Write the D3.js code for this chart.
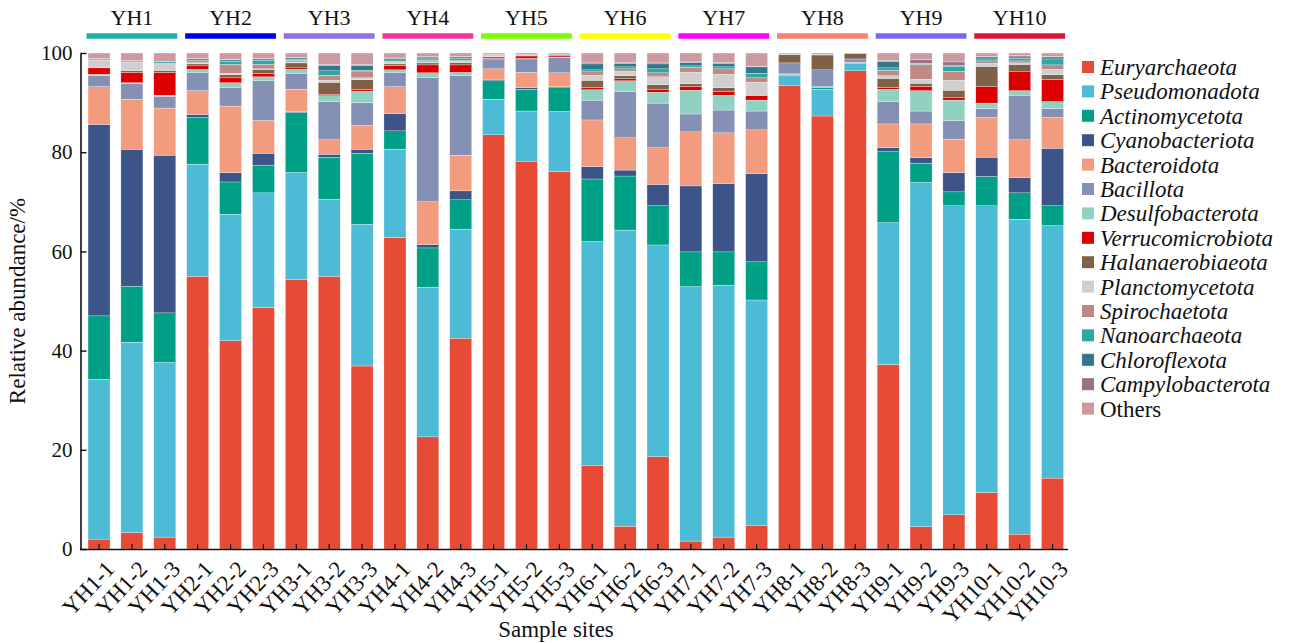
<!DOCTYPE html>
<html>
<head>
<meta charset="utf-8">
<style>
  body { margin: 0; background: #fff; }
  svg text { font-family: "Liberation Serif", "Times New Roman", serif; fill: #111; }
</style>
<script src="https://d3js.org/d3.v7.min.js"></script>
</head>
<body>
<script>
// samples and groups
var samples = ["YH1-1","YH1-2","YH1-3","YH2-1","YH2-2","YH2-3","YH3-1","YH3-2","YH3-3",
               "YH4-1","YH4-2","YH4-3","YH5-1","YH5-2","YH5-3","YH6-1","YH6-2","YH6-3",
               "YH7-1","YH7-2","YH7-3","YH8-1","YH8-2","YH8-3","YH9-1","YH9-2","YH9-3",
               "YH10-1","YH10-2","YH10-3"];
var groups = ["YH1","YH2","YH3","YH4","YH5","YH6","YH7","YH8","YH9","YH10"];
var groupColors = ["#20b2aa","#0000ee","#9370db","#f7339a","#7cfc00","#ffff00","#ff00ff","#fa8072","#7b68ee","#dc143c"];

var phyla = ["Euryarchaeota","Pseudomonadota","Actinomycetota","Cyanobacteriota","Bacteroidota",
             "Bacillota","Desulfobacterota","Verrucomicrobiota","Halanaerobiaeota","Planctomycetota",
             "Spirochaetota","Nanoarchaeota","Chloroflexota","Campylobacterota","Others"];
var colors = ["#e64b35","#4dbbd5","#00a087","#3c5488","#f39b7f","#8491b4","#91d1c2","#dc0000",
              "#7e6148","#cfcfcf","#c08a84","#2ba8a6","#32788a","#9c7085","#cc9aa0"];

// relative abundance (%) per phylum, one value per sample
var euryarchaeota     = [2.0,3.3,2.4,55.0,42.0,48.7,54.4,55.0,36.9,62.8,22.6,42.5,83.5,78.2,76.1,16.9,4.6,18.6,1.6,2.4,4.8,93.4,87.3,96.4,37.2,4.5,6.9,11.4,3.0,14.3];
var pseudomonadota    = [32.2,38.4,35.2,22.6,25.5,23.1,21.5,15.5,28.6,17.8,30.2,22.0,7.2,10.1,12.1,45.1,59.7,42.7,51.3,50.8,45.4,2.1,5.4,1.5,28.6,69.4,62.3,57.8,63.5,50.9];
var actinomycetota    = [12.8,11.3,10.0,9.4,6.5,5.6,12.1,8.5,14.3,3.7,7.9,5.9,3.7,4.4,4.8,12.6,10.9,7.9,7.0,6.7,7.7,0.1,0.3,0.1,14.3,3.9,2.8,5.9,5.3,4.0];
var cyanobacteriota   = [38.6,27.6,31.8,0.6,1.9,2.4,0.2,0.6,0.8,3.5,0.7,1.8,0.3,0.3,0.2,2.5,1.2,4.3,13.3,13.8,17.8,0.1,0.1,0,0.8,1.1,3.9,3.9,3.1,11.6];
var bacteroidota      = [7.6,10.1,9.5,4.8,13.4,6.6,4.5,2.9,4.8,5.4,8.6,7.2,2.1,3.1,2.8,9.4,6.5,7.4,10.9,10.2,8.8,0.1,0.1,0.1,4.8,6.8,6.7,8.0,7.6,6.2];
var bacillota         = [2.3,3.2,2.4,3.6,3.8,8.0,3.1,7.7,4.6,2.9,25.1,16.0,2.0,2.7,3.1,4.0,9.3,9.0,3.6,4.6,3.8,2.2,3.4,0.7,4.5,2.6,3.8,1.8,9.0,1.8];
var desulfobacterota  = [0.2,0.1,0.2,0.7,0.9,0.8,0.9,1.2,2.3,0.5,0.9,0.7,0.1,0.1,0.1,2.1,2.2,2.2,4.8,3.0,2.2,0,0,0,2.5,4.1,4.1,1.1,0.9,1.4];
var verrucomicrobiota = [1.3,2.1,4.6,0.7,1.0,0.7,0.3,0.3,0.4,0.9,1.6,1.5,0.3,0.5,0.3,0.5,0.4,0.5,0.8,0.8,0.9,0,0,0,0.4,0.9,0.6,3.4,3.8,4.5];
var halanaerobiaeota  = [0.1,0.3,0.4,0.4,0.6,0.8,1.0,2.4,1.9,0.3,0.4,0.5,0.1,0.1,0.1,1.4,0.6,1.0,0.5,0.7,0.1,1.7,3.0,1.1,1.8,0.6,1.4,4.0,1.5,0.9];
var planctomycetota   = [1.4,1.7,1.3,0.2,0.3,0.1,0.2,0.4,0.4,0.3,0.2,0.2,0.1,0,0,1.0,0.9,1.6,2.3,2.7,2.6,0.1,0.1,0,0.5,0.8,2.0,0.6,0.3,1.1];
var spirochaetota     = [0.1,0.1,0.1,0.2,1.8,0.9,0.3,1.0,1.2,0.2,0.3,0.2,0.1,0.1,0.1,0.7,0.5,0.8,1.0,1.1,0.9,0,0,0,1.1,3.0,1.8,0.5,0.4,0.9];
var nanoarchaeota     = [0.2,0.2,0.3,0.3,0.6,0.8,0.2,0.9,0.3,0.3,0.3,0.4,0.1,0,0,0.4,0.4,0.8,0.3,0.4,0.9,0,0,0,0.5,0.1,1.0,0.4,0.5,1.2];
var chloroflexota     = [0.1,0.1,0.1,0.3,0.3,0.3,0.3,1.1,1.0,0.3,0.2,0.3,0.1,0.1,0.1,1.2,0.7,1.0,0.7,0.7,1.3,0,0,0,1.3,0.1,0.2,0.4,0.3,0.4];
var campylobacterota  = [0,0,0,0.1,0.1,0.1,0.1,0.2,0.2,0.1,0.3,0.1,0,0,0,0.2,0.2,0.2,0.1,0.2,0.1,0,0,0,0.2,0.8,0.7,0.1,0.3,0.1];
var others            = [1.1,1.5,1.7,1.1,1.3,1.1,0.9,2.3,2.3,1.0,0.7,0.7,0.3,0.3,0.2,2.0,1.9,2.0,1.8,1.9,2.7,0.2,0.3,0.1,1.5,1.3,1.8,0.7,0.5,0.7];

var yTicks = [0, 20, 40, 60, 80, 100];

var series = [euryarchaeota, pseudomonadota, actinomycetota, cyanobacteriota, bacteroidota,
              bacillota, desulfobacterota, verrucomicrobiota, halanaerobiaeota, planctomycetota,
              spirochaetota, nanoarchaeota, chloroflexota, campylobacterota, others];

// build rows for d3.stack
var rows = samples.map(function(s, i) {
  var r = { sample: s };
  phyla.forEach(function(p, j) { r[p] = series[j][i]; });
  return r;
});

var width = 1291, height = 643;
var svg = d3.select("body").append("svg")
  .attr("width", width)
  .attr("height", height);

var x = d3.scaleBand().domain(samples).range([82.6, 1069]).paddingInner(0.33).paddingOuter(0.165);
var y = d3.scaleLinear().domain([0, 100]).range([549, 53]);
var color = d3.scaleOrdinal().domain(phyla).range(colors);

var stacked = d3.stack().keys(phyla)(rows);

// bars
svg.append("g").selectAll("g")
  .data(stacked)
  .join("g")
    .attr("fill", function(d) { return color(d.key); })
  .selectAll("rect")
  .data(function(d) { return d; })
  .join("rect")
    .attr("x", function(d) { return x(d.data.sample); })
    .attr("y", function(d) { return y(d[1]); })
    .attr("width", x.bandwidth())
    .attr("height", function(d) { return Math.max(0, y(d[0]) - y(d[1])); })
    .attr("stroke", "#fff")
    .attr("stroke-width", 0.3);

// y axis, ticks pointing inward
var yAxis = svg.append("g")
  .attr("transform", "translate(80.5,0)")
  .call(d3.axisLeft(y).tickValues(yTicks).tickSizeInner(-6).tickSizeOuter(0).tickPadding(8));
yAxis.select(".domain").attr("stroke", "#111").attr("stroke-width", 1.6);
yAxis.selectAll(".tick line").attr("stroke", "#111").attr("stroke-width", 1.4);
yAxis.selectAll("text").attr("font-size", 21).attr("font-family", "Liberation Serif");

// x axis, ticks pointing inward
var xAxis = svg.append("g")
  .attr("transform", "translate(0,549)")
  .call(d3.axisBottom(x).tickSizeInner(-5).tickSizeOuter(0).tickFormat(""));
xAxis.select(".domain").remove();
xAxis.selectAll(".tick line").attr("stroke", "#111").attr("stroke-width", 1.2);
svg.append("line")
  .attr("x1", 80).attr("x2", 1068)
  .attr("y1", 549.5).attr("y2", 549.5)
  .attr("stroke", "#111").attr("stroke-width", 1.6);

svg.append("g").selectAll("text")
  .data(samples)
  .join("text")
    .attr("transform", function(d) {
      return "translate(" + (x(d) + x.bandwidth() / 2 + 5) + ",559) rotate(-47)";
    })
    .attr("text-anchor", "end")
    .attr("dy", "0.7em")
    .attr("font-size", 23)
    .text(function(d) { return d; });

// axis titles
svg.append("text")
  .attr("transform", "translate(25,301) rotate(-90)")
  .attr("text-anchor", "middle")
  .attr("font-size", 23)
  .text("Relative abundance/%");

svg.append("text")
  .attr("x", 556).attr("y", 637)
  .attr("text-anchor", "middle")
  .attr("font-size", 23)
  .text("Sample sites");

// group bars and labels on top
var grp = svg.append("g").selectAll("g")
  .data(groups)
  .join("g");

grp.append("line")
  .attr("x1", function(d, i) { return x(samples[i * 3]) - 1.5; })
  .attr("x2", function(d, i) { return x(samples[i * 3 + 2]) + x.bandwidth() + 1.5; })
  .attr("y1", 36).attr("y2", 36)
  .attr("stroke", function(d, i) { return groupColors[i]; })
  .attr("stroke-width", 5.5);

grp.append("text")
  .attr("x", function(d, i) { return x(samples[i * 3 + 1]) + x.bandwidth() / 2; })
  .attr("y", 25)
  .attr("text-anchor", "middle")
  .attr("font-size", 22)
  .text(function(d) { return d; });

// legend
var legend = svg.append("g").selectAll("g")
  .data(phyla)
  .join("g")
    .attr("transform", function(d, i) { return "translate(1082," + (67 + i * 24.4) + ")"; });

legend.append("rect")
  .attr("x", 0).attr("y", -6)
  .attr("width", 12).attr("height", 12)
  .attr("fill", function(d) { return color(d); });

legend.append("text")
  .attr("x", 18)
  .attr("dy", "0.35em")
  .attr("font-size", 23)
  .attr("font-style", function(d) { return d === "Others" ? "normal" : "italic"; })
  .text(function(d) { return d; });
</script>
</body>
</html>
